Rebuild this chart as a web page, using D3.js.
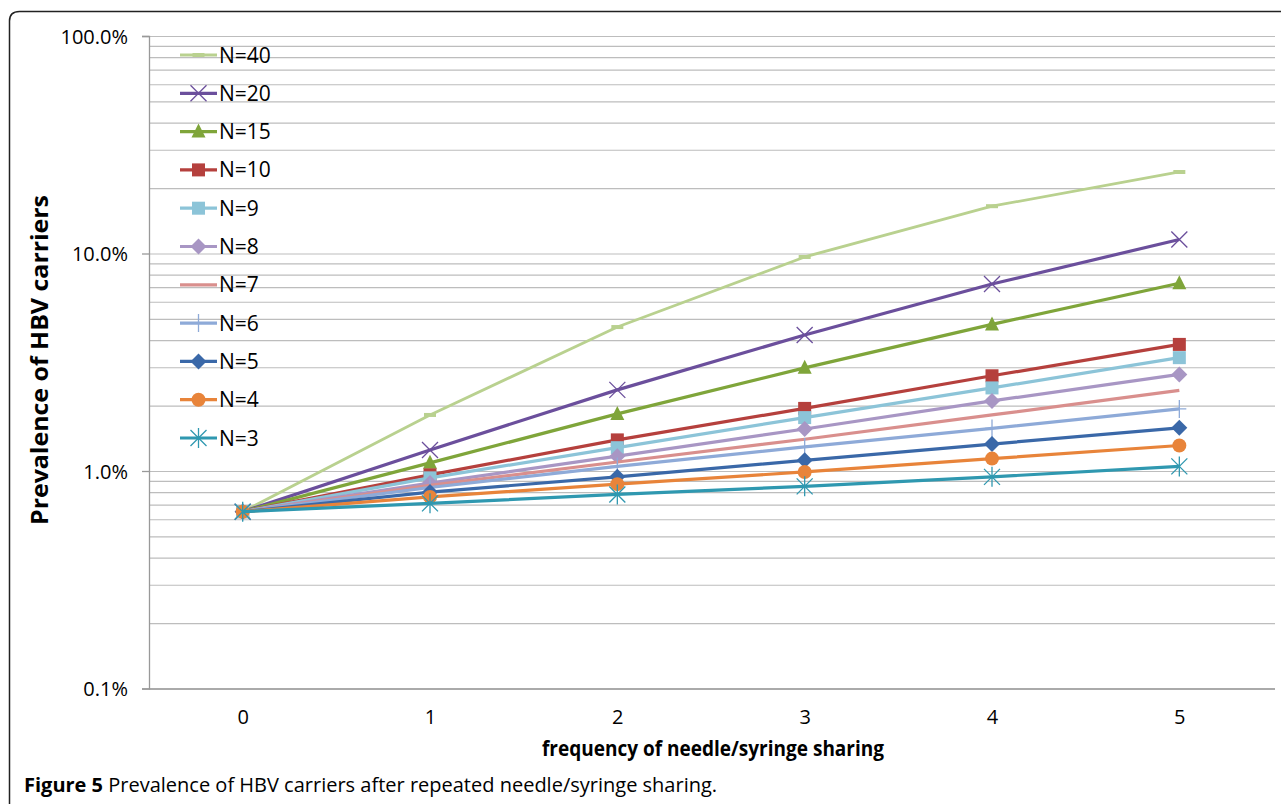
<!DOCTYPE html>
<html>
<head>
<meta charset="utf-8">
<script src="https://cdn.jsdelivr.net/npm/d3@7"></script>
<style>
  body { margin: 0; background: #fff; }
  svg { display: block; }
  text { font-family: "Open Sans", sans-serif; fill: #000; }
</style>
</head>
<body>
<div id="chart"></div>
<script>
// frequency of needle/syringe sharing
const shares = [0, 1, 2, 3, 4, 5];
const seriesNames = ["N=40", "N=20", "N=15", "N=10", "N=9", "N=8", "N=7", "N=6", "N=5", "N=4", "N=3"];
// prevalence (fraction)
const n40 = [0.0065, 0.0181, 0.0459, 0.0964, 0.165, 0.237];
const n20 = [0.0065, 0.0125, 0.0236, 0.0422, 0.0724, 0.116];
const n15 = [0.0065, 0.0109, 0.0183, 0.0298, 0.0472, 0.0730];
const n10 = [0.0065, 0.0096, 0.0139, 0.0194, 0.0274, 0.0382];
const n9  = [0.0065, 0.0093, 0.0128, 0.0176, 0.0241, 0.0332];
const n8  = [0.0065, 0.0088, 0.0117, 0.0156, 0.0210, 0.0278];
const n7  = [0.0065, 0.0086, 0.0110, 0.0140, 0.0181, 0.0235];
const n6  = [0.0065, 0.0084, 0.0105, 0.0129, 0.0157, 0.0193];
const n5  = [0.0065, 0.0080, 0.0094, 0.0112, 0.0133, 0.0158];
const n4  = [0.0065, 0.0076, 0.0087, 0.0099, 0.0114, 0.0131];
const n3  = [0.0065, 0.0071, 0.0078, 0.0085, 0.0094, 0.0105];
const yTickLabels = ["0.1%", "1.0%", "10.0%", "100.0%"];
const yMajor = [0.001, 0.01, 0.1, 1];

const seriesVals = [n40, n20, n15, n10, n9, n8, n7, n6, n5, n4, n3];
const colors = ["#b9d18f", "#6b4f9c", "#7fa53a", "#b5403d", "#8cc4d8", "#a896c4",
                "#d98f8d", "#8eaad8", "#3a68a8", "#e8843a", "#2f98b0"];
const markers = ["dash", "x", "triangle", "square", "square", "diamond", "none", "plus", "diamond", "circle", "star"];

const W = 1281, H = 804;
const svg = d3.select("#chart").append("svg").attr("width", W).attr("height", H);

// figure frame (left + top, rounded corner)
svg.append("path")
  .attr("d", "M9.5,804 L9.5,21 Q9.5,11.5 19.5,11.5 L1281,11.5")
  .attr("fill", "none").attr("stroke", "#222").attr("stroke-width", 1.5);

const plotL = 149, plotR = 1273, plotT = 36, plotB = 688.5;
const x = d3.scalePoint().domain(shares).range([plotL, plotR]).padding(0.5);
const y = d3.scaleLog().domain([0.001, 1]).range([plotB, plotT]);

// gridlines: major and minor log lines
const gridVals = [];
[0.001, 0.01, 0.1].forEach(d => { for (let k = 1; k <= 9; k++) gridVals.push(k * d); });
gridVals.push(1);
const grid = svg.append("g").attr("transform", `translate(${plotL},0)`)
  .call(d3.axisLeft(y).tickValues(gridVals).tickSize(-(1275 - plotL)).tickFormat(""));
grid.select(".domain").remove();
grid.selectAll("line").attr("stroke", "#bdbdbd").attr("stroke-width", 1.2);

// y axis
const yAxis = svg.append("g").attr("transform", `translate(${plotL},0)`)
  .call(d3.axisLeft(y).tickValues(yMajor).tickSize(7).tickPadding(14)
    .tickFormat((d, i) => yTickLabels[i]));
yAxis.select(".domain").attr("stroke", "#999").attr("stroke-width", 1.3);
yAxis.selectAll("line").attr("stroke", "#999").attr("stroke-width", 1.3);
yAxis.selectAll("text").style("font-size", "20px").attr("dy", "0.35em");

// x axis
const xAxis = svg.append("g").attr("transform", `translate(0,${plotB})`)
  .call(d3.axisBottom(x).tickSize(0).tickPadding(21));
xAxis.select(".domain").attr("d", `M${plotL},0.5H1275`).attr("stroke", "#999").attr("stroke-width", 1.5);
xAxis.selectAll("text").style("font-size", "20px");

// axis titles
svg.append("text")
  .attr("transform", "translate(48,360) rotate(-90)")
  .attr("text-anchor", "middle")
  .attr("textLength", 330).attr("lengthAdjust", "spacingAndGlyphs")
  .style("font-size", "24px").style("font-weight", "bold")
  .text("Prevalence of HBV carriers");
svg.append("text")
  .attr("x", 713).attr("y", 756)
  .attr("text-anchor", "middle")
  .attr("textLength", 342).attr("lengthAdjust", "spacingAndGlyphs")
  .style("font-size", "21px").style("font-weight", "bold")
  .text("frequency of needle/syringe sharing");

// caption
const cap = svg.append("text").attr("x", 24).attr("y", 792)
  .style("font-size", "20px");
cap.append("tspan").style("font-weight", "bold").text("Figure 5");
cap.append("tspan").text(" Prevalence of HBV carriers after repeated needle/syringe sharing.");

function drawMarker(g, type, color, cx, cy) {
  const s = g.append("g").attr("transform", `translate(${cx},${cy})`);
  if (type === "dash") {
    s.append("rect").attr("x", -6).attr("y", -2).attr("width", 12).attr("height", 4).attr("fill", color);
  } else if (type === "x") {
    s.append("path").attr("d", "M-8,-8L8,8M-8,8L8,-8").attr("stroke", color).attr("stroke-width", 1.3).attr("fill", "none");
  } else if (type === "triangle") {
    s.append("path").attr("d", "M0,-8L7,6H-7Z").attr("fill", color);
  } else if (type === "square") {
    s.append("rect").attr("x", -6.5).attr("y", -6.5).attr("width", 13).attr("height", 13).attr("fill", color);
  } else if (type === "diamond") {
    s.append("path").attr("d", "M0,-8L8,0L0,8L-8,0Z").attr("fill", color);
  } else if (type === "plus") {
    s.append("path").attr("d", "M0,-9V9M-7,0H7").attr("stroke", color).attr("stroke-width", 1.3);
  } else if (type === "circle") {
    s.append("circle").attr("r", 7).attr("fill", color);
  } else if (type === "star") {
    s.append("path").attr("d", "M-8,-8L8,8M-8,8L8,-8M0,-10V10").attr("stroke", color).attr("stroke-width", 1.3).attr("fill", "none");
  }
}

// series lines
const line = d3.line().x((d, i) => x(shares[i])).y(d => y(d));
const plot = svg.append("g");
seriesVals.forEach((vals, si) => {
  const g = plot.append("g");
  g.append("path").datum(vals)
    .attr("d", line).attr("fill", "none")
    .attr("stroke", colors[si]).attr("stroke-width", si === 0 ? 2.8 : 3.2).attr("stroke-linejoin", "round");
  vals.forEach((v, i) => drawMarker(g, markers[si], colors[si], x(shares[i]), y(v)));
});

// legend
const legend = svg.append("g");
seriesNames.forEach((name, i) => {
  const ly = 55 + i * 38.3;
  const g = legend.append("g");
  g.append("line").attr("x1", 180).attr("x2", 217).attr("y1", ly).attr("y2", ly)
    .attr("stroke", colors[i]).attr("stroke-width", 3.2);
  drawMarker(g, markers[i], colors[i], 198.5, ly);
  g.append("text").attr("x", 219).attr("y", ly).attr("dy", "0.36em")
    .style("font-size", "21px").text(name);
});
</script>
</body>
</html>
